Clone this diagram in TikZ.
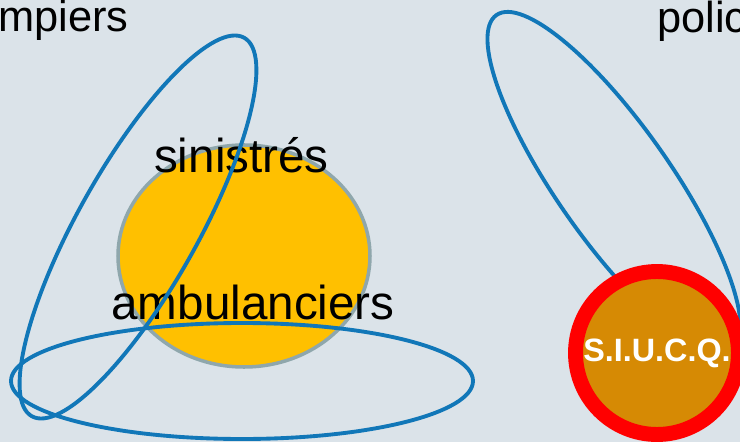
\documentclass[tikz,border=0pt]{standalone}
\usepackage{fontspec}
\setmainfont{Liberation Sans}
\definecolor{fond}{RGB}{219,227,233}
\definecolor{bleu}{RGB}{17,119,184}
\definecolor{jaune}{RGB}{255,192,0}
\definecolor{gris}{RGB}{143,167,172}
\definecolor{ocre}{RGB}{214,138,4}

\begin{document}
\begin{tikzpicture}[
  x=0.02cm, y=-0.02cm,
  mot/.style={inner sep=0pt, font=\fontsize{27.1}{32}\selectfont},
  titre/.style={inner sep=0pt, font=\fontsize{24.7}{30}\selectfont},
  groupe/.style={draw=bleu, line width=2.2pt},
  centre/.style={circle, fill=ocre, draw=red, line width=8.5pt, minimum size=3.26cm, inner sep=0pt,
    text=white, font=\fontsize{18.4}{22}\selectfont\bfseries}
]
\useasboundingbox (0,0) rectangle (740,442);
\clip (0,0) rectangle (740,442);
\fill[fond] (0,0) rectangle (740,442);

\filldraw[fill=jaune, draw=gris, line width=2pt] (244,256) ellipse [x radius=126, y radius=111];

\node[mot, anchor=base] (sin) at (241.5,173) {sinistrés};
\node[mot, anchor=base] (amb) at (253,319) {ambulanciers};
\node[titre, anchor=base east] (pomp) at (129,32) {mpiers};
\node[titre, anchor=base west] (pol) at (657,33) {polic};

% les trois groupes
\draw[groupe, rotate around={60.7:(138,227)}] (138,227) ellipse [x radius=217, y radius=60];
\draw[groupe] (242,381) ellipse [x radius=231, y radius=58];
\draw[groupe, rotate around={-55:(614,183)}] (614,183) ellipse [x radius=205, y radius=57];

\node[centre] (siucq) at (657,353) {S.I.U.C.Q.};
\end{tikzpicture}
\end{document}
